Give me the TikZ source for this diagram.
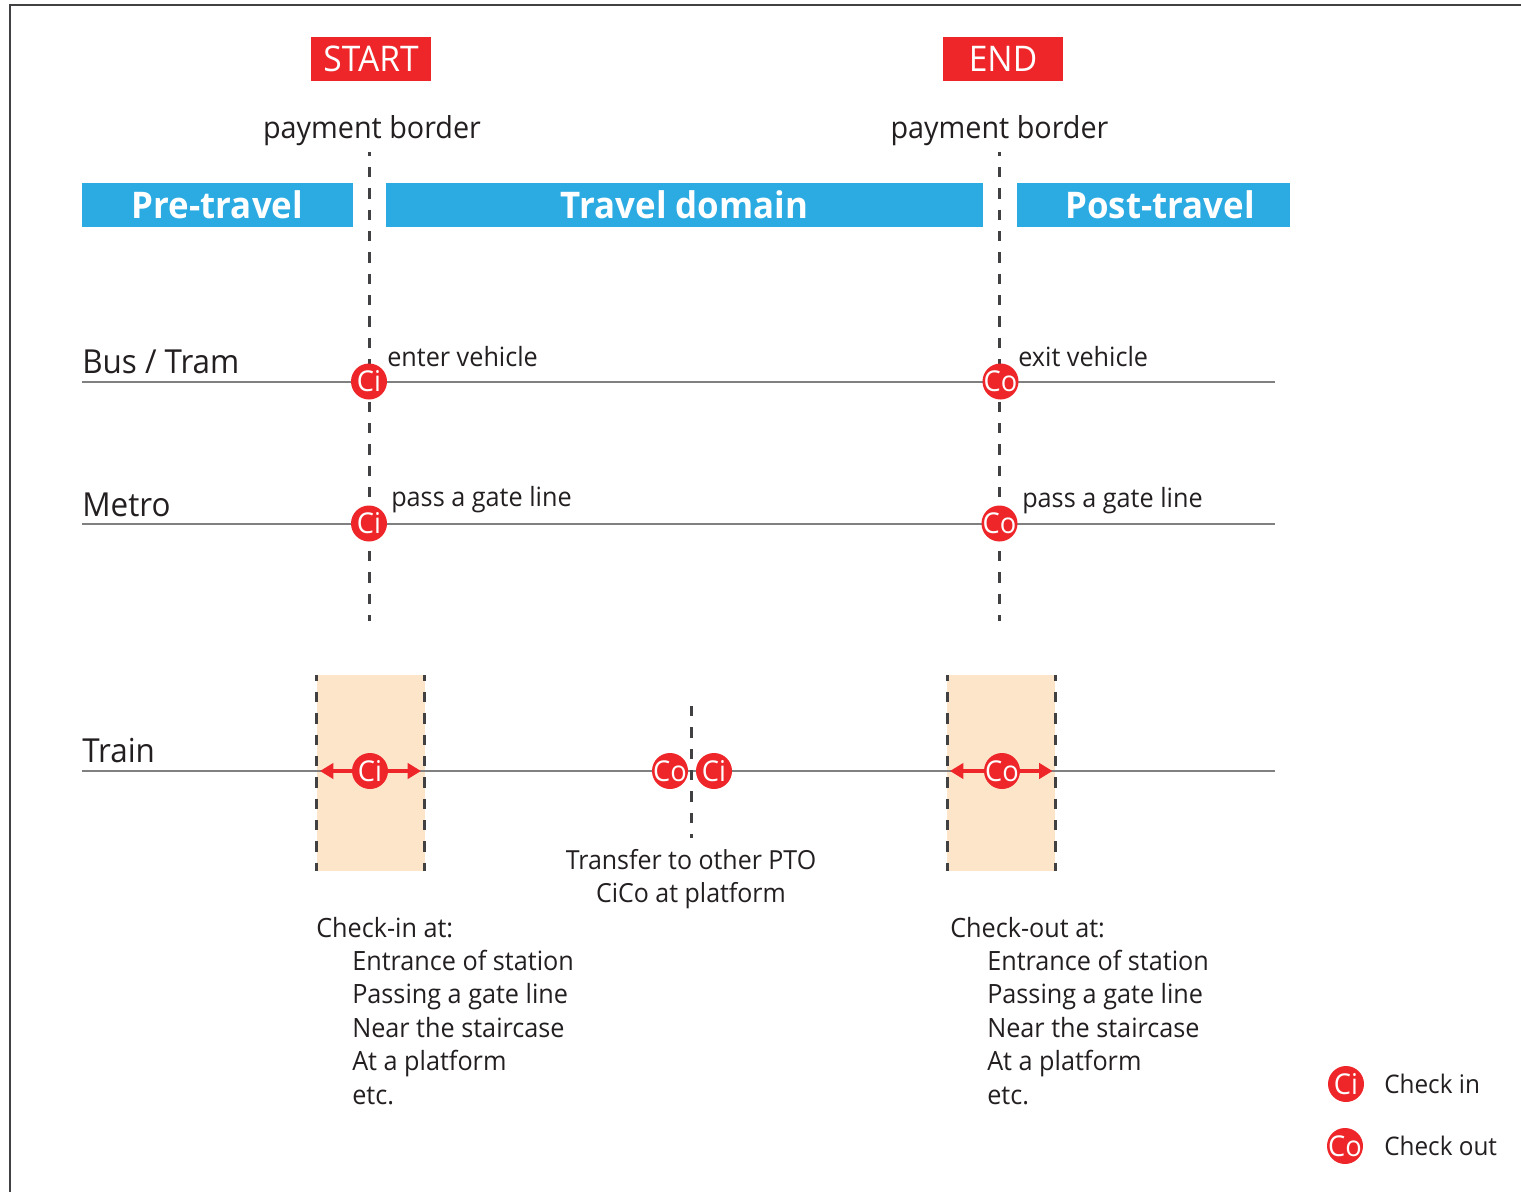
\documentclass[tikz,border=0pt]{standalone}
\usepackage{fontspec}
\setmainfont{Open Sans}[FakeStretch=0.95]
\usetikzlibrary{arrows.meta}
\definecolor{redc}{HTML}{EE2529}
\definecolor{bluec}{HTML}{2CABE2}
\definecolor{peach}{HTML}{FDE5CA}
\definecolor{inkc}{HTML}{231F20}
\definecolor{dashc}{HTML}{414042}
\newcommand{\fsz}[1]{\fontsize{#1}{#1}\selectfont}
\newcommand{\ctext}[1]{\makebox[0pt][c]{#1}}
\tikzset{
  x=0.75pt,y=-0.75pt,
  hdr/.style={text=white,inner sep=0,font=\fsz{27.5}\bfseries},
  mark box/.style={fill=redc,draw=none,text=white,inner sep=0,font=\fsz{26.5}},
  lab/.style={anchor=base west,inner sep=0,text=inkc,font=\fsz{19.9}},
  leg/.style={anchor=base west,inner sep=0,text=inkc,font=\fsz{19.2}},
  mid/.style={anchor=base,inner sep=0,text=inkc,font=\fsz{19.7}},
  big/.style={anchor=base west,inner sep=0,text=inkc,font=\fsz{24.8}},
  pay/.style={anchor=base,inner sep=0,text=inkc,font=\fsz{22.7}},
  cico/.style={circle,fill=redc,draw=none,text=white,minimum size=27pt,inner sep=0,font=\fsz{21.5}},
  rail/.style={draw=black!50,line width=0.8pt},
  border/.style={draw=dashc,line width=2.1pt,dash pattern=on 7.8pt off 8.2pt},
  span/.style={draw=redc,line width=2.3pt,{Triangle[length=10pt,width=11.5pt]}-{Triangle[length=10pt,width=11.5pt]}},
}
\begin{document}
\begin{tikzpicture}
\useasboundingbox (0,0) rectangle (1521,1192);
\draw[draw=dashc,line width=1.1pt] (10,1192) -- (10,5) -- (1521,5);
% zones
\fill[peach] (317,675) rectangle (425,871);
\fill[peach] (947,675) rectangle (1055,871);
% rail ends
\coordinate (busL) at (82,382); \coordinate (busR) at (1275,382);
\coordinate (metL) at (82,524); \coordinate (metR) at (1275,524);
\coordinate (trnL) at (82,771); \coordinate (trnR) at (1275,771);
\draw[rail] (busL) -- (busR);
\draw[rail] (metL) -- (metR);
\draw[rail] (trnL) -- (trnR);
% borders
\coordinate (b1t) at (369.4,152); \coordinate (b1b) at (369.4,620.5);
\coordinate (b2t) at (999.5,152); \coordinate (b2b) at (999.5,620.5);
\coordinate (tft) at (691.4,706); \coordinate (tfb) at (691.4,838);
\coordinate (z1t) at (316.6,675); \coordinate (z1b) at (316.6,871);
\coordinate (z2t) at (424.6,675); \coordinate (z2b) at (424.6,871);
\coordinate (z3t) at (947.4,675); \coordinate (z3b) at (947.4,871);
\coordinate (z4t) at (1055.4,675); \coordinate (z4b) at (1055.4,871);
\draw[border,dash phase=4.7pt] (b1t) -- (b1b);
\draw[border,dash phase=4.7pt] (b2t) -- (b2b);
\draw[border] (tft) -- (tfb);
\foreach \a/\b in {z1t/z1b,z2t/z2b,z3t/z3b,z4t/z4b}{\draw[border,dash phase=3.2pt] (\a) -- (\b);}
% headers
\node[mark box,minimum width=90pt,minimum height=33pt] (start) at (371,59) {START};
\node[mark box,minimum width=90pt,minimum height=33pt] (end) at (1003,59) {END};
\node[pay] (pb1) at (372,138) {payment border};
\node[pay] (pb2) at (999.5,138) {payment border};
\fill[bluec] (82,183) rectangle (353,227);
\fill[bluec] (386,183) rectangle (983,227);
\fill[bluec] (1017,183) rectangle (1290,227);
\node[hdr] (pre) at (217.5,205) {Pre-travel};
\node[hdr] (trv) at (684.5,205) {Travel domain};
\node[hdr] (post) at (1160,205) {Post-travel};
% mode names
\node[big] (nbus) at (82,373) {Bus / Tram};
\node[big] (nmet) at (82,516) {Metro};
\node[big] (ntrn) at (82,762) {Train};
% labels
\node[lab] (l1) at (387,366) {enter vehicle};
\node[lab] (l2) at (1018,366) {exit vehicle};
\node[lab] (l3) at (391,506) {pass a gate line};
\node[lab] (l4) at (1022,507) {pass a gate line};
% double arrows
\coordinate (a1) at (320,771); \coordinate (a2) at (421,771);
\coordinate (a3) at (950,771); \coordinate (a4) at (1052.5,771);
\draw[span] (a1) -- (a2);
\draw[span] (a3) -- (a4);
% circles
\node[cico] (c1) at (369,381.5) {\ctext{Ci}};
\node[cico] (c2) at (1000.5,381.5) {\ctext{Co}};
\node[cico] (c3) at (369,523.5) {\ctext{Ci}};
\node[cico] (c4) at (999.5,523.5) {\ctext{Co}};
\node[cico] (c5) at (370,771) {\ctext{Ci}};
\node[cico] (c6) at (1002,771) {\ctext{Co}};
\node[cico] (c7) at (670,771) {\ctext{Co}};
\node[cico] (c8) at (714,771) {\ctext{Ci}};
% notes
\node[mid] (t1) at (691,869) {Transfer to other PTO};
\node[mid] (t2) at (691,902) {CiCo at platform};
\node[lab] (ci0) at (316,937) {Check-in at:};
\node[lab] (ci1) at (352,970) {Entrance of station};
\node[lab] (ci2) at (352,1003) {Passing a gate line};
\node[lab] (ci3) at (352,1037) {Near the staircase};
\node[lab] (ci4) at (352,1070) {At a platform};
\node[lab] (ci5) at (352,1104) {etc.};
\node[lab] (co0) at (950,937) {Check-out at:};
\node[lab] (co1) at (987,970) {Entrance of station};
\node[lab] (co2) at (987,1003) {Passing a gate line};
\node[lab] (co3) at (987,1037) {Near the staircase};
\node[lab] (co4) at (987,1070) {At a platform};
\node[lab] (co5) at (987,1104) {etc.};
% legend
\node[cico] (lg1) at (1346,1084) {\ctext{Ci}};
\node[cico] (lg2) at (1345,1146) {\ctext{Co}};
\node[leg] (lt1) at (1384,1093) {Check in};
\node[leg] (lt2) at (1384,1155) {Check out};
\end{tikzpicture}
\end{document}
